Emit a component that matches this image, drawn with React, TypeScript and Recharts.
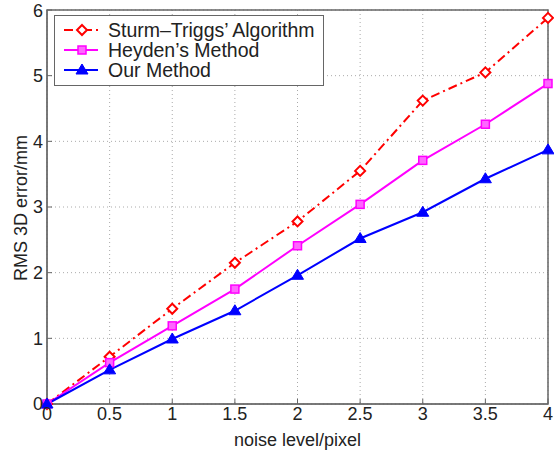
import { CartesianGrid, Line, LineChart, ReferenceArea, XAxis, YAxis } from "recharts"

const noiseLevels = [0, 0.5, 1, 1.5, 2, 2.5, 3, 3.5, 4]
const sturmTriggs = [0, 0.72, 1.45, 2.15, 2.78, 3.55, 4.62, 5.05, 5.88]
const heyden = [0, 0.63, 1.19, 1.75, 2.41, 3.04, 3.71, 4.26, 4.88]
const ours = [0, 0.52, 0.99, 1.42, 1.96, 2.52, 2.92, 3.43, 3.87]
const xTicks = [0, 0.5, 1, 1.5, 2, 2.5, 3, 3.5, 4]
const yTicks = [0, 1, 2, 3, 4, 5, 6]

const data = noiseLevels.map((n, i) => ({
  noise: n,
  sturm: sturmTriggs[i],
  heyden: heyden[i],
  ours: ours[i],
}))

const FONT = "Liberation Sans, Arial, sans-serif"
const AXIS = "#666"
const TEXT = "#222"

const Diamond = ({ cx, cy }: any) => (
  <polygon
    points={`${cx},${cy - 5} ${cx + 5},${cy} ${cx},${cy + 5} ${cx - 5},${cy}`}
    fill="#fff"
    stroke="#ff0000"
    strokeWidth={2}
  />
)
const Square = ({ cx, cy }: any) => (
  <rect x={cx - 4} y={cy - 4} width={8} height={8} fill="#ff66ff" stroke="#ff00ff" strokeWidth={1.5} />
)
const Triangle = ({ cx, cy }: any) => (
  <polygon points={`${cx},${cy - 6} ${cx + 6},${cy + 4} ${cx - 6},${cy + 4}`} fill="#0000ff" stroke="#0000ff" />
)

const series = [
  { key: "sturm", name: "Sturm\u2013Triggs\u2019 Algorithm", color: "#ff0000", dash: "9 4 2 4", Dot: Diamond },
  { key: "heyden", name: "Heyden\u2019s Method", color: "#ff00ff", dash: undefined, Dot: Square },
  { key: "ours", name: "Our Method", color: "#0000ff", dash: undefined, Dot: Triangle },
]

function LegendBox() {
  return (
    <svg width={270} height={71} style={{ position: "absolute", left: 54, top: 15 }}>
      <rect x={0.5} y={0.5} width={269} height={70} fill="#fff" stroke={AXIS} />
      {series.map((s, i) => {
        const y = 15 + i * 20
        return (
          <g key={s.key}>
            <line x1={10} x2={44} y1={y} y2={y} stroke={s.color} strokeWidth={2} strokeDasharray={s.dash} />
            <s.Dot cx={28} cy={y} />
            <text x={54} y={y + 7} fontSize={19.5} fontFamily={FONT} fill={TEXT}>
              {s.name}
            </text>
          </g>
        )
      })}
    </svg>
  )
}

const tickStyle = { fill: TEXT, fontSize: 18, fontFamily: FONT }

export default function App() {
  return (
    <div style={{ position: "absolute", left: 0, top: 0, width: 554, height: 452, background: "#fff" }}>
      <LineChart width={554} height={452} data={data} margin={{ top: 10, right: 6, left: 0, bottom: 0 }}>
        <CartesianGrid stroke="#aaa" strokeDasharray="1 3" />
        <XAxis
          dataKey="noise"
          type="number"
          domain={[0, 4]}
          ticks={xTicks}
          height={48}
          stroke={AXIS}
          tickSize={-5}
          tickMargin={8}
          tick={tickStyle}
          label={{ value: "noise level/pixel", position: "insideBottom", offset: 6, fill: TEXT, fontSize: 18, fontFamily: FONT }}
        />
        <XAxis
          xAxisId="top"
          orientation="top"
          dataKey="noise"
          type="number"
          domain={[0, 4]}
          ticks={xTicks}
          height={0}
          stroke={AXIS}
          tickSize={-5}
          tick={false}
        />
        <YAxis
          type="number"
          domain={[0, 6]}
          ticks={yTicks}
          width={47}
          stroke={AXIS}
          tickSize={-5}
          tickMargin={9}
          tick={tickStyle}
          label={{
            content: () => (
              <text
                x={21}
                y={208}
                transform="rotate(-90 21 208)"
                textAnchor="middle"
                dominantBaseline="central"
                fontSize={18}
                fontFamily={FONT}
                fill={TEXT}
              >
                RMS 3D error/mm
              </text>
            ),
          }}
        />
        <YAxis
          yAxisId="right"
          orientation="right"
          type="number"
          domain={[0, 6]}
          ticks={yTicks}
          width={0}
          stroke={AXIS}
          tickSize={-5}
          tick={false}
        />
        <ReferenceArea x1={0} x2={4} y1={0} y2={6} fill="none" stroke={AXIS} strokeWidth={1.5} ifOverflow="visible" />
        {series.map((s) => (
          <Line
            key={s.key}
            dataKey={s.key}
            name={s.name}
            stroke={s.color}
            strokeWidth={2}
            strokeDasharray={s.dash}
            dot={(p: any) => <s.Dot key={p.index} cx={p.cx} cy={p.cy} />}
            activeDot={false}
            isAnimationActive={false}
          />
        ))}
      </LineChart>
      <LegendBox />
    </div>
  )
}
